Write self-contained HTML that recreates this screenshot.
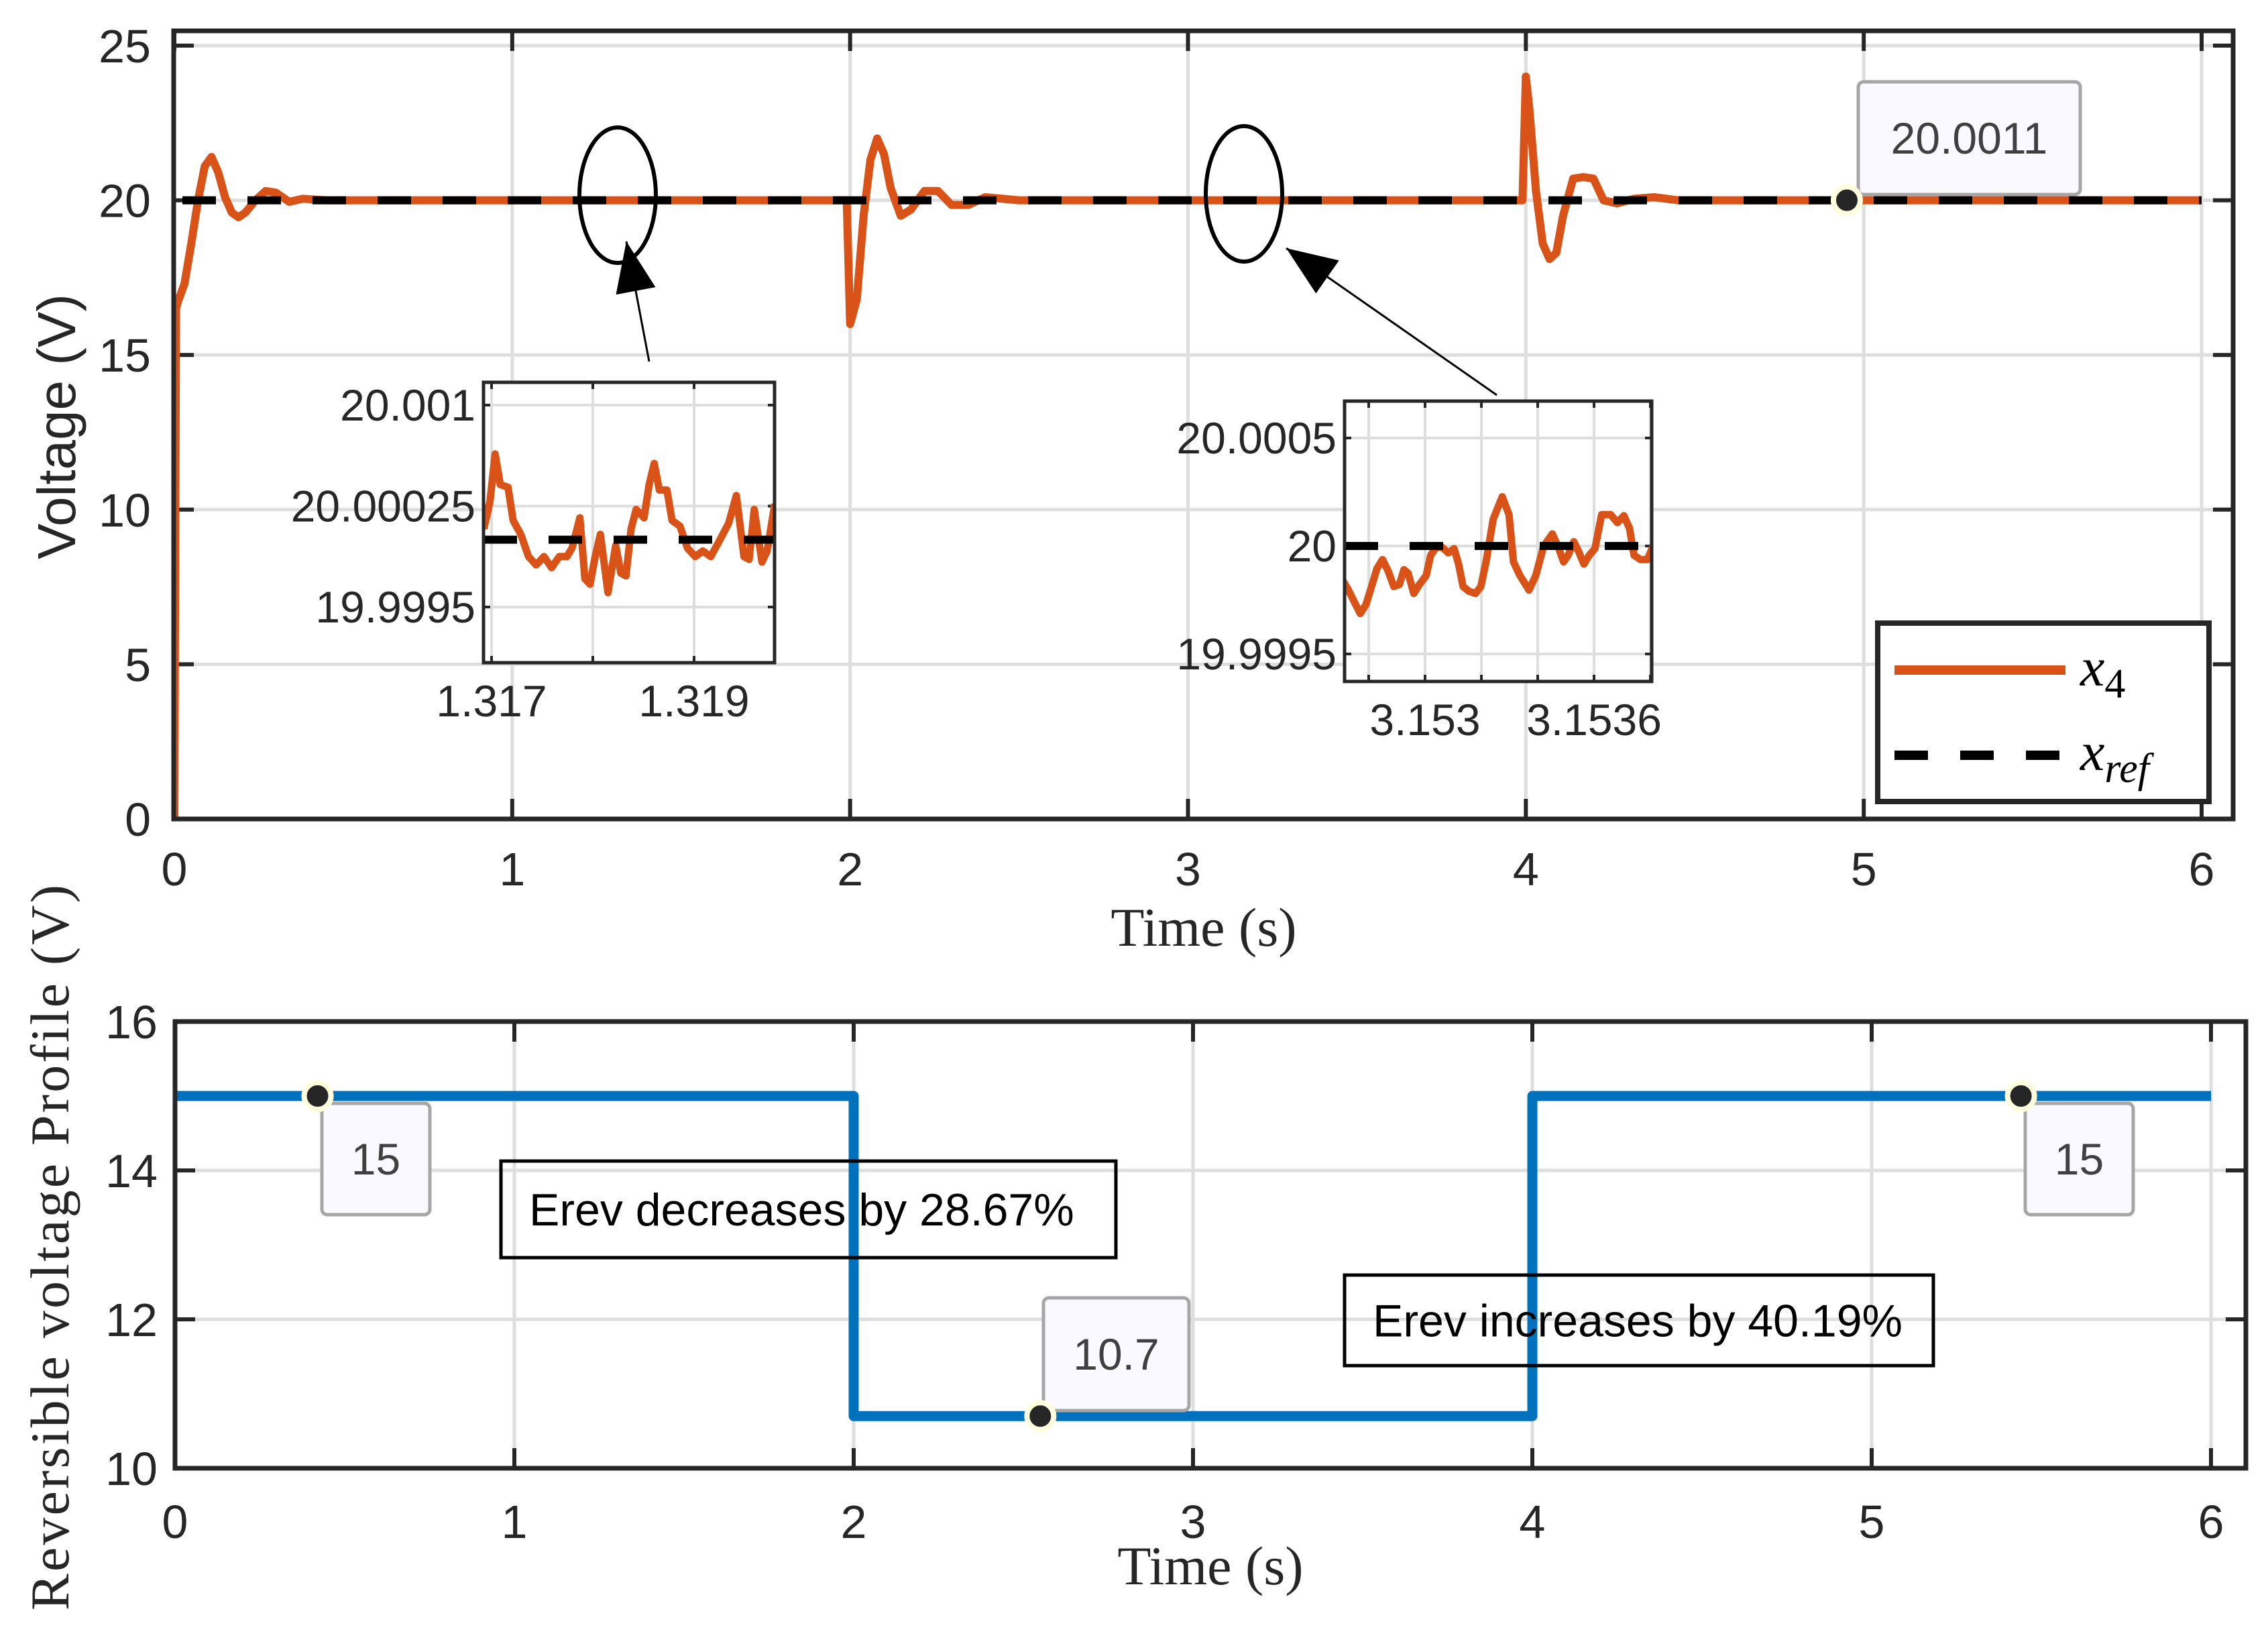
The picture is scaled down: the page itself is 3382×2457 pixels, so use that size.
<!DOCTYPE html>
<html><head><meta charset="utf-8"><style>
html,body{margin:0;padding:0;background:#fff}
svg{display:block}
text{font-family:"Liberation Sans",sans-serif}
.serif{font-family:"Liberation Serif",serif}
</style></head><body>
<svg id="fig" width="3382" height="2457" viewBox="0 0 3382 2457" xmlns="http://www.w3.org/2000/svg">
<defs>
<clipPath id="clipTop"><rect x="259" y="46" width="3071" height="1175"/></clipPath>
<clipPath id="clipIn1"><rect x="721" y="570" width="434" height="418"/></clipPath>
<clipPath id="clipIn2"><rect x="2005" y="598" width="458" height="418"/></clipPath>
<clipPath id="clipBot"><rect x="261" y="1523" width="3088" height="666"/></clipPath>
</defs>
<g id="layer"></g>
</svg>
<script>
// ---- Top chart data ----
const topTicksX = [0,1,2,3,4,5,6];
const topTicksY = [0,5,10,15,20,25];
const refT = [0, 6];
const refV = [20, 20];
const x4T = [0,0.005,0.01,0.03,0.05,0.07,0.09,0.11,0.13,0.15,0.17,0.19,0.21,0.24,0.27,0.3,0.34,0.38,0.45,0.55,1.99,2.0,2.02,2.04,2.06,2.08,2.1,2.12,2.15,2.18,2.22,2.26,2.3,2.35,2.4,2.5,3.99,4.0,4.01,4.03,4.05,4.07,4.09,4.11,4.14,4.17,4.2,4.23,4.27,4.32,4.38,4.45,6];
const x4V = [0,16.5,16.7,17.3,18.6,20,21.1,21.4,20.9,20.1,19.6,19.45,19.6,20.0,20.3,20.25,19.95,20.05,20,20,20,16.0,16.8,19.5,21.3,22.0,21.5,20.4,19.5,19.7,20.3,20.3,19.85,19.85,20.1,20,20,24.0,23.0,20.3,18.6,18.1,18.3,19.5,20.7,20.75,20.7,20.0,19.9,20.05,20.1,20,20];
// ---- Inset 1 data ----
const in1TicksX = [1.317,1.318,1.319];
const in1TicksY = [19.9995,20.00025,20.001];
const in1TickLabelsX = ["1.317","1.319"];
const in1T = [1.316924,1.316985,1.317035,1.317086,1.317162,1.317213,1.317289,1.317365,1.317440,1.317517,1.317593,1.317669,1.317744,1.317795,1.317872,1.317922,1.317973,1.318023,1.318074,1.318150,1.318226,1.318277,1.318327,1.318378,1.318428,1.318505,1.318556,1.318606,1.318657,1.318732,1.318783,1.318860,1.318935,1.319011,1.319087,1.319164,1.319240,1.319341,1.319417,1.319493,1.319544,1.319594,1.319670,1.319721,1.319797];
const in1V = [20.000081,20.000287,20.000637,20.000410,20.000390,20.000143,20.000040,19.999875,19.999813,19.999875,19.999792,19.999875,19.999875,19.999937,20.000163,19.999710,19.999669,19.999875,20.000040,19.999607,19.999957,19.999752,19.999731,20.000081,20.000225,20.000163,20.000410,20.000567,20.000369,20.000369,20.000143,20.000101,19.999937,19.999875,19.999916,19.999875,19.999978,20.000122,20.000328,19.999875,19.999854,20.000225,19.999834,19.999916,20.000266];
// ---- Inset 2 data ----
const in2TicksX = [3.1528,3.153,3.1532,3.1534,3.1536,3.1538];
const in2TicksY = [19.9995,20,20.0005];
const in2TickLabelsX = ["3.153","3.1536"];
const in2T = [3.152702,3.152726,3.152750,3.152770,3.152790,3.152810,3.152829,3.152849,3.152869,3.152889,3.152909,3.152925,3.152940,3.152960,3.152980,3.153004,3.153020,3.153040,3.153060,3.153083,3.153103,3.153119,3.153135,3.153155,3.153179,3.153198,3.153218,3.153242,3.153274,3.153298,3.153314,3.153337,3.153369,3.153393,3.153421,3.153452,3.153472,3.153492,3.153508,3.153528,3.153544,3.153564,3.153583,3.153603,3.153627,3.153659,3.153683,3.153706,3.153726,3.153742,3.153765,3.153789,3.153817];
const in2V = [19.999853,19.999801,19.999738,19.999687,19.999728,19.999812,19.999895,19.999937,19.999884,19.999812,19.999822,19.999890,19.999874,19.999780,19.999822,19.999863,19.999957,19.999994,19.999994,19.999968,19.999988,19.999916,19.999812,19.999791,19.999780,19.999812,19.999937,20.000124,20.000228,20.000145,19.999926,19.999863,19.999796,19.999863,19.999999,20.000056,19.999999,19.999926,19.999957,20.000020,19.999978,19.999916,19.999957,19.999988,20.000145,20.000145,20.000108,20.000140,20.000082,19.999957,19.999937,19.999937,20.000020];
// ---- Bottom chart data ----
const botTicksX = [0,1,2,3,4,5,6];
const botTicksY = [10,12,14,16];
const erevT = [0,2,2,4,4,6];
const erevV = [15,15,10.7,10.7,15,15];
const tipsTop = [{t:4.95, v:20.0011, label:"20.0011"}];
const tipsBot = [{t:0.42, v:15, label:"15"},{t:2.55, v:10.7, label:"10.7"},{t:5.44, v:15, label:"15"}];

const NS = "http://www.w3.org/2000/svg";
const root = document.getElementById('layer');
function mk(tag, attrs, parent, txt){
  const e = document.createElementNS(NS, tag);
  for (const k in attrs) e.setAttribute(k, attrs[k]);
  if (txt !== undefined) e.textContent = txt;
  (parent || root).appendChild(e);
  return e;
}
function lin(d0,d1,r0,r1){ return v => r0 + (v-d0)/(d1-d0)*(r1-r0); }
function pathFrom(T,V,sx,sy){ return T.map((t,i)=>(i?'L':'M')+sx(t).toFixed(1)+','+sy(V[i]).toFixed(1)).join(''); }

// ===== TOP AXES =====
const tL=259, tR=3330, tT=46, tB=1221;
const tx = lin(0,6,260,3283);
const ty = lin(0,25,1221,68);
let g = mk('g',{});


topTicksX.forEach(v=>mk('line',{x1:tx(v),x2:tx(v),y1:tT,y2:tB,stroke:'#dedede','stroke-width':5},g));
topTicksY.forEach(v=>mk('line',{x1:tL,x2:tR,y1:ty(v),y2:ty(v),stroke:'#dedede','stroke-width':5},g));
let tk = mk('g',{});


topTicksX.forEach(v=>{mk('line',{x1:tx(v),x2:tx(v),y1:tB,y2:tB-30,stroke:'#262626','stroke-width':6},tk);mk('line',{x1:tx(v),x2:tx(v),y1:tT,y2:tT+30,stroke:'#262626','stroke-width':6},tk);});
topTicksY.forEach(v=>{mk('line',{x1:tL,x2:tL+30,y1:ty(v),y2:ty(v),stroke:'#262626','stroke-width':6},tk);mk('line',{x1:tR,x2:tR-30,y1:ty(v),y2:ty(v),stroke:'#262626','stroke-width':6},tk);});
let tlab = mk('g',{fill:'#262626','font-size':70});


topTicksX.forEach(v=>mk('text',{x:tx(v),y:1320,'text-anchor':'middle'},tlab,String(v)));
topTicksY.forEach(v=>mk('text',{x:225,y:ty(v)+25,'text-anchor':'end'},tlab,String(v)));

let ser = mk('g',{'clip-path':'url(#clipTop)'});


let p1 = mk('path',{d:pathFrom(x4T,x4V,tx,ty),fill:'none',stroke:'#D95319','stroke-width':12,'stroke-linejoin':'round'},ser);


let p2 = mk('path',{d:pathFrom(refT,refV,tx,ty),fill:'none',stroke:'#000','stroke-width':12,'stroke-dasharray':'50 47','stroke-dashoffset':'-12'},ser);


let box1 = mk('rect',{x:tL,y:tT,width:tR-tL,height:tB-tT,fill:'none',stroke:'#262626','stroke-width':7});



let yl = mk('text',{x:0,y:0,'font-size':80,fill:'#262626','text-anchor':'middle',transform:'translate(112,636) rotate(-90)'},root,'Voltage (V)');


let xl = mk('text',{x:1795,y:1410,'font-size':82,fill:'#262626','text-anchor':'middle','class':'serif'},root,'Time (s)');



function ellipseArrow(cx,cy,x1,y1,x2,y2,name){
  const ga = mk('g',{});
  
  
  mk('ellipse',{cx:cx,cy:cy,rx:57,ry:101,fill:'none',stroke:'#000','stroke-width':6},ga);
  mk('line',{x1:x1,y1:y1,x2:x2,y2:y2,stroke:'#000','stroke-width':3},ga);
  const a=Math.atan2(y2-y1,x2-x1), L=75, W=30;
  const bx=x2-L*Math.cos(a), by=y2-L*Math.sin(a);
  mk('polygon',{points:`${x2},${y2} ${bx+W*Math.sin(a)},${by-W*Math.cos(a)} ${bx-W*Math.sin(a)},${by+W*Math.cos(a)}`,fill:'#000'},ga);
}
ellipseArrow(921,291,968,539,934,360,'zoom-marker-1');
ellipseArrow(1855,289,2232,589,1918,370,'zoom-marker-2');

function inset(name,L,R,T,B,sx,sy,ticksX,ticksY,labX,labY,TT,VV,clip,labYFmt){
  const gi = mk('g',{});
  
  
  mk('rect',{x:L,y:T,width:R-L,height:B-T,fill:'#fff'},gi);
  ticksX.forEach(v=>mk('line',{x1:sx(v),x2:sx(v),y1:T,y2:B,stroke:'#dedede','stroke-width':4},gi));
  ticksY.forEach(v=>mk('line',{x1:L,x2:R,y1:sy(v),y2:sy(v),stroke:'#dedede','stroke-width':4},gi));
  ticksX.forEach(v=>{mk('line',{x1:sx(v),x2:sx(v),y1:B,y2:B-10,stroke:'#262626','stroke-width':4},gi);mk('line',{x1:sx(v),x2:sx(v),y1:T,y2:T+10,stroke:'#262626','stroke-width':4},gi);});
  ticksY.forEach(v=>{mk('line',{x1:L,x2:L+10,y1:sy(v),y2:sy(v),stroke:'#262626','stroke-width':4},gi);mk('line',{x1:R,x2:R-10,y1:sy(v),y2:sy(v),stroke:'#262626','stroke-width':4},gi);});
  const gc = mk('g',{'clip-path':clip},gi);
  mk('path',{d:pathFrom(TT,VV,sx,sy),fill:'none',stroke:'#D95319','stroke-width':11,'stroke-linejoin':'round'},gc);
  mk('line',{x1:L,x2:R,y1:sy(20),y2:sy(20),stroke:'#000','stroke-width':12,'stroke-dasharray':'50 47'},gc);
  mk('rect',{x:L,y:T,width:R-L,height:B-T,fill:'none',stroke:'#262626','stroke-width':5},gi);
  labX.forEach(s=>mk('text',{x:sx(parseFloat(s)),y:B+80,'text-anchor':'middle','font-size':66,fill:'#262626'},gi,s));
  labY.forEach(v=>mk('text',{x:L-12,y:sy(v)+23,'text-anchor':'end','font-size':66,fill:'#262626'},gi,labYFmt(v)));
}
const i1x = lin(1.317,1.319,733,1035), i1y = lin(19.9995,20.001,905,604);
inset('inset-1',721,1155,570,988,i1x,i1y,in1TicksX,in1TicksY,in1TickLabelsX,in1TicksY,in1T,in1V,'url(#clipIn1)',v=>({19.9995:'19.9995',20.00025:'20.00025',20.001:'20.001'})[v]);
const i2x = lin(3.153,3.1536,2125,2377), i2y = lin(19.9995,20.0005,975,653);
inset('inset-2',2005,2463,598,1016,i2x,i2y,in2TicksX,in2TicksY,in2TickLabelsX,in2TicksY,in2T,in2V,'url(#clipIn2)',v=>({19.9995:'19.9995',20:'20',20.0005:'20.0005'})[v]);

let lg = mk('g',{});


mk('rect',{x:2800,y:929,width:494,height:266,fill:'#fff',stroke:'#262626','stroke-width':8},lg);
let le1 = mk('g',{},lg);


mk('line',{x1:2825,x2:3080,y1:999,y2:999,stroke:'#D95319','stroke-width':14},le1);
let t1 = mk('text',{x:3102,y:1022,'font-size':82,'font-style':'italic','class':'serif',fill:'#000'},le1,'x');
mk('tspan',{dy:18,'font-size':62,'font-style':'normal'},t1,'4');
let le2 = mk('g',{},lg);


mk('line',{x1:2825,x2:3075,y1:1126,y2:1126,stroke:'#000','stroke-width':14,'stroke-dasharray':'50 48'},le2);
let t2 = mk('text',{x:3102,y:1148,'font-size':82,'font-style':'italic','class':'serif',fill:'#000'},le2,'x');
mk('tspan',{dy:18,'font-size':62},t2,'ref');

function tip(sx,sy,t,v,label,bx,by,bw,bh,name){
  const gt = mk('g',{});
  
  
  mk('rect',{x:bx,y:by,width:bw,height:bh,rx:8,fill:'#f9f9ff',stroke:'#a6a6a6','stroke-width':5},gt);
  mk('text',{x:bx+bw/2,y:by+bh/2+23,'text-anchor':'middle','font-size':66,fill:'#404040'},gt,label);
  mk('circle',{cx:sx(t),cy:sy(v),r:20,fill:'#262626',stroke:'#ffffe0','stroke-width':8},gt);
}
tipsTop.forEach(d=>tip(tx,ty,d.t,d.v,d.label,2771,122,331,168,'datatip-20-0011'));

// ===== BOTTOM AXES =====
const bL=261, bR=3349, bT=1523, bB=2189;
const bx = lin(0,6,261,3297);
const by = lin(10,16,2189,1523);
let gb = mk('g',{});


botTicksX.forEach(v=>mk('line',{x1:bx(v),x2:bx(v),y1:bT,y2:bB,stroke:'#dedede','stroke-width':5},gb));
botTicksY.forEach(v=>mk('line',{x1:bL,x2:bR,y1:by(v),y2:by(v),stroke:'#dedede','stroke-width':5},gb));
let tb = mk('g',{});


botTicksX.forEach(v=>{mk('line',{x1:bx(v),x2:bx(v),y1:bB,y2:bB-30,stroke:'#262626','stroke-width':6},tb);mk('line',{x1:bx(v),x2:bx(v),y1:bT,y2:bT+30,stroke:'#262626','stroke-width':6},tb);});
botTicksY.forEach(v=>{mk('line',{x1:bL,x2:bL+30,y1:by(v),y2:by(v),stroke:'#262626','stroke-width':6},tb);mk('line',{x1:bR,x2:bR-30,y1:by(v),y2:by(v),stroke:'#262626','stroke-width':6},tb);});
let bl = mk('g',{fill:'#262626','font-size':70});


botTicksX.forEach(v=>mk('text',{x:bx(v),y:2293,'text-anchor':'middle'},bl,String(v)));
botTicksY.forEach(v=>mk('text',{x:235,y:by(v)+25,'text-anchor':'end'},bl,String(v)));
let sb = mk('g',{'clip-path':'url(#clipBot)'});


let pe = mk('path',{d:pathFrom(erevT,erevV,bx,by),fill:'none',stroke:'#0072BD','stroke-width':15,'stroke-linejoin':'round'},sb);


let box2 = mk('rect',{x:bL,y:bT,width:bR-bL,height:bB-bT,fill:'none',stroke:'#262626','stroke-width':7});



function note(x,y,w,h,txt,name){
  const gn = mk('g',{});
  
  
  mk('rect',{x:x,y:y,width:w,height:h,fill:'none',stroke:'#000','stroke-width':5},gn);
  mk('text',{x:x+42,y:y+h/2+24,'font-size':68,fill:'#000'},gn,txt);
}
note(747,1731,917,144,'Erev decreases by 28.67%','annotation-decrease');
note(2005,1901,878,135,'Erev increases by 40.19%','annotation-increase');

tip(bx,by,tipsBot[0].t,tipsBot[0].v,tipsBot[0].label,480,1645,161,166,'datatip-15-left');
tip(bx,by,tipsBot[1].t,tipsBot[1].v,tipsBot[1].label,1556,1935,217,168,'datatip-10-7');
tip(bx,by,tipsBot[2].t,tipsBot[2].v,tipsBot[2].label,3020,1645,161,166,'datatip-15-right');

let byl = mk('text',{x:0,y:0,'font-size':82,fill:'#262626','text-anchor':'middle','class':'serif',textLength:1082,lengthAdjust:'spacing',transform:'translate(102,1860) rotate(-90)'},root,'Reversible voltage Profile (V)');


let bxl = mk('text',{x:1805,y:2362,'font-size':82,fill:'#262626','text-anchor':'middle','class':'serif'},root,'Time (s)');


</script>
</body></html>
